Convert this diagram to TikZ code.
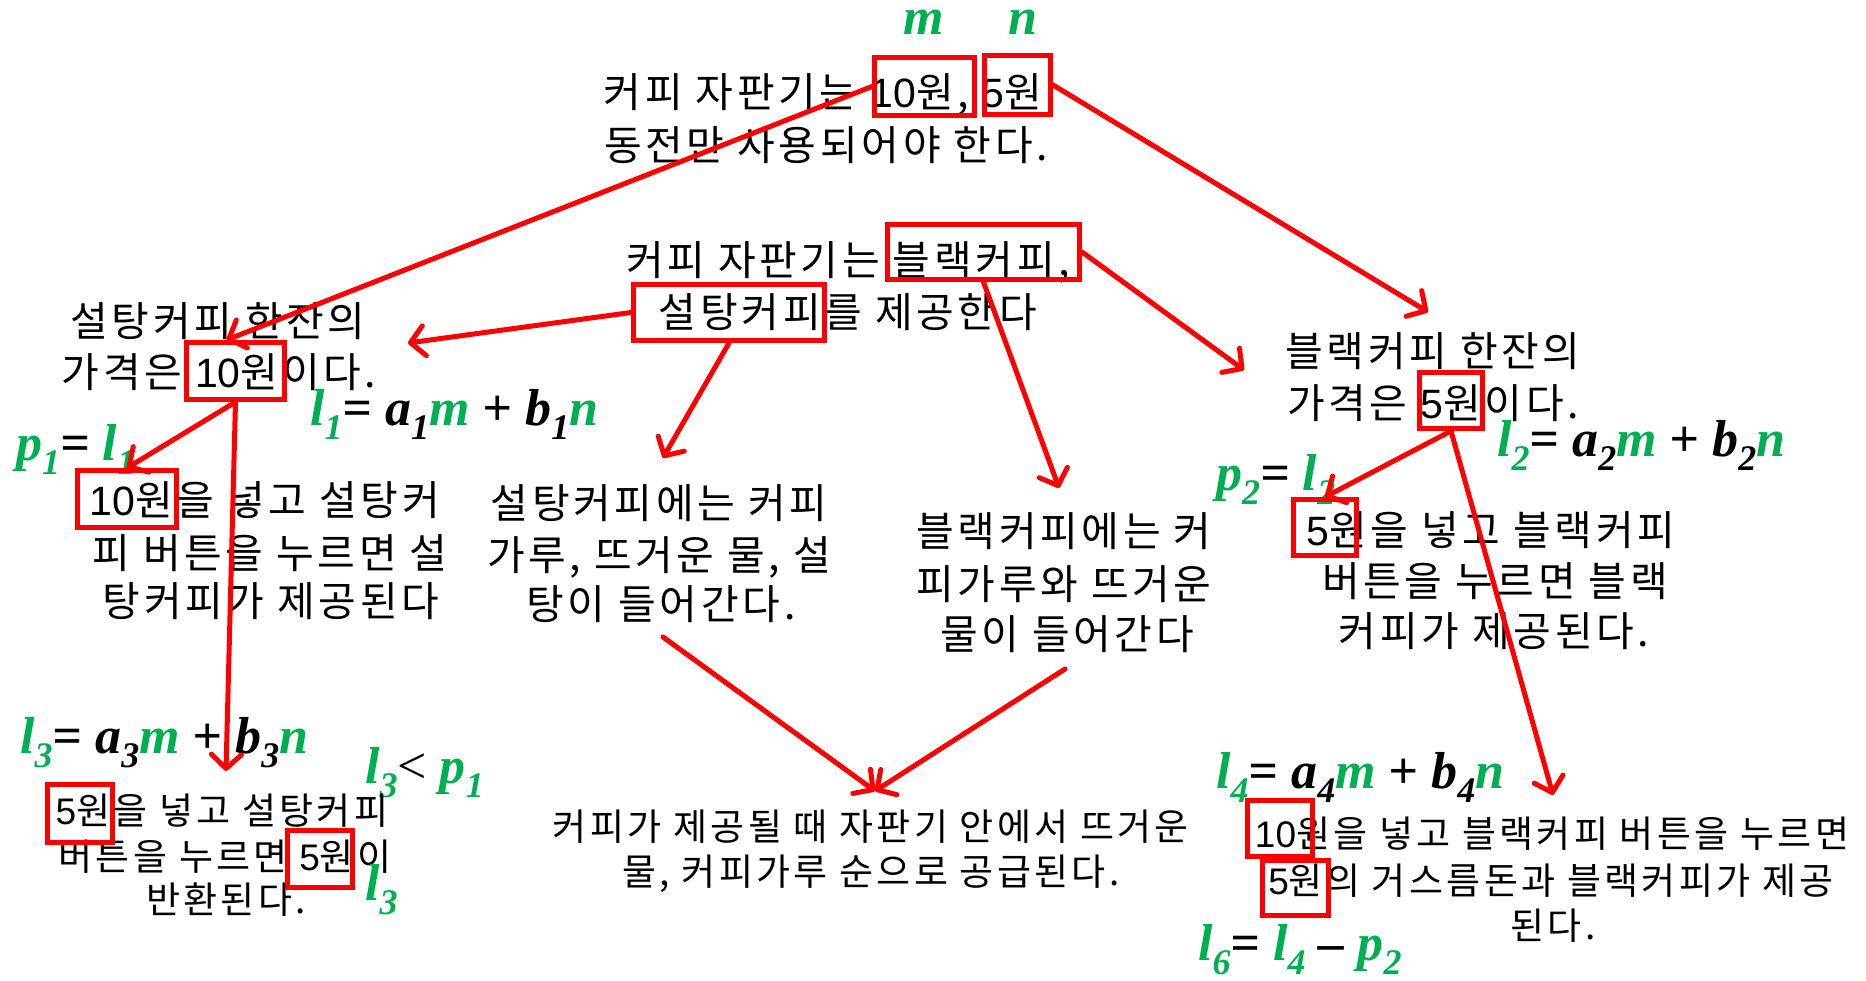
\documentclass[tikz,border=0pt]{standalone}
\usepackage{fontspec}
\usetikzlibrary{arrows.meta,calc}
\newfontfamily\kr[LetterSpace=9]{Noto Sans CJK KR}
\newfontfamily\mf{Liberation Serif}
\newfontfamily\lsans{Liberation Sans}
\definecolor{eqg}{RGB}{0,176,80}
\definecolor{rd}{RGB}{255,0,0}
\newcommand\G[1]{\textcolor{eqg}{#1}}
\newcommand\D[1]{{\lsans #1}}
\newcommand\sbs[1]{\raisebox{-0.28em}{\fontsize{36}{36}\selectfont #1}}
\tikzset{
  kb/.style={font=\kr\fontsize{41}{52}\selectfont, inner sep=0pt, anchor=base},
  ks/.style={font=\kr\fontsize{37}{45}\selectfont, inner sep=0pt, anchor=base},
  eq/.style={font=\mf\bfseries\itshape\fontsize{52}{52}\selectfont, inner sep=0pt, anchor=base west},
  rb/.style 2 args={draw=rd, line width=5pt, inner sep=0pt, minimum width=#1, minimum height=#2},
  ar/.style={draw=rd, line width=5pt, line cap=round, -{Straight Barb[length=14pt,width=30pt,round]}}
}
\begin{document}
\begin{tikzpicture}[x=1pt,y=-1pt]
\useasboundingbox (0,0) rectangle (1866,981);
% top
\node[eq, anchor=base, text height=0.45em, text depth=0pt] (vm) at (924,35) {\G{m}};
\node[eq, anchor=base, text height=0.45em, text depth=0pt] (vn) at (1023,35) {\G{n}};
\node[kb] (t1a) at (823,108) {커피 자판기는 \D{10}원, \D{5}원};
\node[kb] (t1b) at (826,161) {동전만 사용되어야 한다.};
% middle top
\node[kb] (t2a) at (848,276) {커피 자판기는 블랙커피,};
\node[kb] (t2b) at (848,328) {설탕커피를 제공한다};
% left
\node[kb] (t3a) at (218,337) {설탕커피 한잔의};
\node[kb] (t3b) at (219,388) {가격은 \D{10}원이다.};
\node[eq] (l1eq) at (310,425) {\G{l\sbs{1}}= a\sbs{1}\G{m} + b\sbs{1}\G{n}};
\node[eq] (p1eq) at (16,460) {\G{p\sbs{1}}= \G{l\sbs{1}}};
\node[kb] (t4a) at (265,515) {\D{10}원을 넣고 설탕커};
\node[kb] (t4b) at (270,568) {피 버튼을 누르면 설};
\node[kb] (t4c) at (271,616) {탕커피가 제공된다};
% center
\node[kb] (t5a) at (659,518) {설탕커피에는 커피};
\node[kb] (t5b) at (659,570) {가루, 뜨거운 물, 설};
\node[kb] (t5c) at (661,619) {탕이 들어간다.};
\node[kb] (t6a) at (1064,546) {블랙커피에는 커};
\node[kb] (t6b) at (1064,599) {피가루와 뜨거운};
\node[kb] (t6c) at (1067,649) {물이 들어간다};
% right
\node[kb] (t7a) at (1433,367) {블랙커피 한잔의};
\node[kb] (t7b) at (1433,418) {가격은 \D{5}원이다.};
\node[eq] (l2eq) at (1497,456) {\G{l\sbs{2}}= a\sbs{2}\G{m} + b\sbs{2}\G{n}};
\node[eq] (p2eq) at (1216,490) {\G{p\sbs{2}}= \G{l\sbs{2}}};
\node[kb] (t8a) at (1491,545) {\D{5}원을 넣고 블랙커피};
\node[kb] (t8b) at (1495,596) {버튼을 누르면 블랙};
\node[kb] (t8c) at (1494,646) {커피가 제공된다.};
% bottom left
\node[eq] (l3eq) at (20,753) {\G{l\sbs{3}}= a\sbs{3}\G{m} + b\sbs{3}\G{n}};
\node[eq] (l3lt) at (365,783) {\G{l\sbs{3}}{\mdseries\upshape <} \G{p\sbs{1}}};
\node[ks] (t9a) at (222,824) {\D{5}원을 넣고 설탕커피};
\node[ks] (t9b) at (225,870) {버튼을 누르면 \D{5}원이};
\node[ks] (t9c) at (226,913) {반환된다.};
\node[eq] (l3b) at (365,900) {\G{l\sbs{3}}};
% bottom center
\node[ks] (t10a) at (871,840) {커피가 제공될 때 자판기 안에서 뜨거운};
\node[ks] (t10b) at (871,885) {물, 커피가루 순으로 공급된다.};
% bottom right
\node[eq] (l4eq) at (1216,788) {\G{l\sbs{4}}= a\sbs{4}\G{m} + b\sbs{4}\G{n}};
\node[ks] (t11a) at (1552,847) {\D{10}원을 넣고 블랙커피 버튼을 누르면};
\node[ks] (t11b) at (1551,894) {\D{5}원의 거스름돈과 블랙커피가 제공};
\node[ks] (t11c) at (1553,939) {된다.};
\node[eq] (l6eq) at (1198,960) {\G{l\sbs{6}}= \G{l\sbs{4}} – \G{p\sbs{2}}};
% boxes
\node[rb={100}{58}] (B10t) at (924.5,86.5) {};
\node[rb={66}{59}] (B5t) at (1017.5,85) {};
\node[rb={192}{55}] (Bbk) at (983.5,252) {};
\node[rb={191}{56}] (Bst) at (729,312.5) {};
\node[rb={98}{57}] (B10L) at (235.5,371) {};
\node[rb={99}{57}] (B10L2) at (127,499) {};
\node[rb={63}{56}] (B5R) at (1451,400.5) {};
\node[rb={63}{56}] (B5R2) at (1325,527.5) {};
\node[rb={65}{58}] (B5BL) at (80,813.5) {};
\node[rb={65}{57}] (B5BL2) at (320,859) {};
\node[rb={65}{56}] (B10BR) at (1280,828.5) {};
\node[rb={66}{55}] (B5BR) at (1295.5,888) {};
% free ends
\coordinate (c2) at (1428,312);
\coordinate (c3) at (408,343);
\coordinate (c4) at (663,458);
\coordinate (c5) at (1244,370);
\coordinate (c6) at (1059,488);
\coordinate (c8) at (226,771);
\coordinate (c10) at (1553,795);
\coordinate (c11s) at (663,637);
\coordinate (c12s) at (1065,669);
\coordinate (c11e) at (875,791);
% arrows
\draw[ar] (B10t.west) -- ($(B10L.north)+(-9,0)$);
\draw[ar] (B5t.east) -- (c2);
\draw[ar] (Bst.west) -- (c3);
\draw[ar] (Bst.south) -- (c4);
\draw[ar] (Bbk.east) -- (c5);
\draw[ar] (Bbk.south) -- (c6);
\draw[ar] (B10L.south) -- (B10L2.north);
\draw[ar] (B10L.south) -- (c8);
\draw[ar] (B5R.south) -- (B5R2.north);
\draw[ar] (B5R.south) -- (c10);
\draw[ar] (c11s) -- (c11e);
\draw[ar] (c12s) -- (c11e);
\end{tikzpicture}
\end{document}
